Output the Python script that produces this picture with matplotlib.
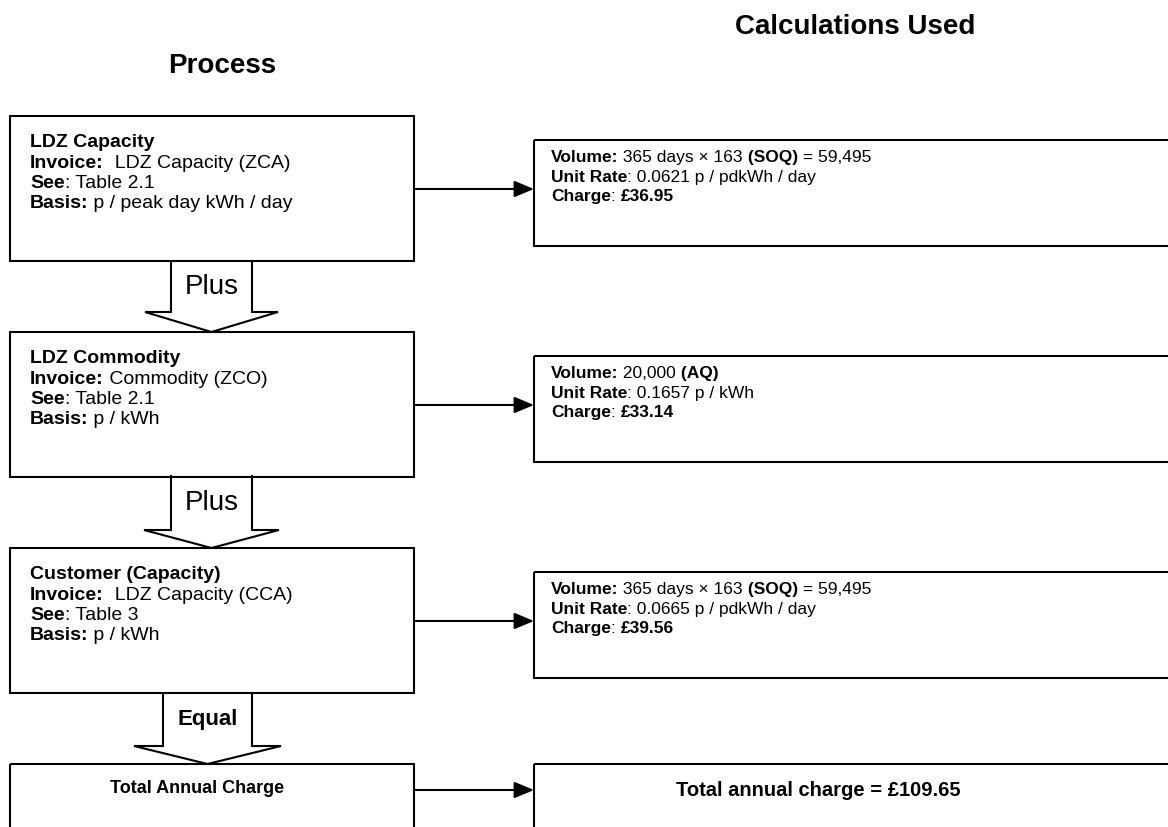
import matplotlib.pyplot as plt
from matplotlib.patches import Rectangle, Polygon

# text content of the flow chart
titles = ["Process", "Calculations Used"]
stage_names = ["LDZ Capacity", "LDZ Commodity", "Customer (Capacity)"]
invoices = ["  LDZ Capacity (ZCA)", " Commodity (ZCO)", "  LDZ Capacity (CCA)"]
see_tables = ["Table 2.1", "Table 2.1", "Table 3"]
bases = ["p / peak day kWh / day", "p / kWh", "p / kWh"]
vol_amounts = ["365 days \u00d7 163", "20,000", "365 days \u00d7 163"]
vol_sources = ["SOQ", "AQ", "SOQ"]
vol_results = ["59,495", "", "59,495"]
unit_rates = ["0.0621 p / pdkWh / day", "0.1657 p / kWh", "0.0665 p / pdkWh / day"]
charges = ["\u00a336.95", "\u00a333.14", "\u00a339.56"]
connectors = ["Plus", "Plus", "Equal"]
total_label = "Total Annual Charge"
total_charge = "\u00a3109.65"

plt.rcParams['font.family'] = ['Liberation Sans', 'DejaVu Sans']

fig = plt.figure(figsize=(11.68, 8.28), dpi=100)
ax = fig.add_axes([0, 0, 1, 1])
ax.set_xlim(0, 1168)
ax.set_ylim(828, 0)
ax.axis('off')
renderer = fig.canvas.get_renderer()


def runs(x, y, parts, size):
    # draw bold / normal pieces one after another on a baseline
    for txt, bold in parts:
        t = ax.text(x, y, txt, fontsize=size, va='baseline', ha='left',
                    fontweight='bold' if bold else 'normal')
        bb = t.get_window_extent(renderer)
        x = ax.transData.inverted().transform((bb.x1, bb.y0))[0]


# layout (pixels)
left_x0, left_x1 = 10, 414
left_tops = [117, 333, 549]
left_h = 145
right_x0, right_x1 = 534, 1190
right_tops = [141, 357, 573]
right_h = 106
link_ys = [190, 406, 622]
total_top = 765
total_y = 791
lw = 1.5

ax.text(222, 66, titles[0], fontsize=20, fontweight='bold', ha='center', va='center')
ax.text(855, 27, titles[1], fontsize=20, fontweight='bold', ha='center', va='center')

for i in range(3):
    top = left_tops[i]
    ax.add_patch(Rectangle((left_x0, top), left_x1 - left_x0, left_h,
                           fill=False, ec='black', lw=lw))
    runs(30, top + 30, [(stage_names[i], True)], 14)
    runs(30, top + 51, [("Invoice:", True), (invoices[i], False)], 14)
    runs(30, top + 71, [("See", True), (": " + see_tables[i], False)], 14)
    runs(30, top + 91, [("Basis:", True), (" " + bases[i], False)], 14)

    rtop = right_tops[i]
    ax.add_patch(Rectangle((right_x0, rtop), right_x1 - right_x0, right_h,
                           fill=False, ec='black', lw=lw))
    vol = [("Volume:", True), (" " + vol_amounts[i], False), (" (" + vol_sources[i] + ")", True)]
    if vol_results[i]:
        vol.append((" = " + vol_results[i], False))
    runs(551, rtop + 21, vol, 12.5)
    runs(551, rtop + 41, [("Unit Rate", True), (": " + unit_rates[i], False)], 12.5)
    runs(551, rtop + 60, [("Charge", True), (": ", False), (charges[i], True)], 12.5)

    ax.annotate('', xy=(right_x0, link_ys[i]), xytext=(left_x1, link_ys[i]),
                arrowprops=dict(arrowstyle='-|>,head_length=0.6,head_width=0.25',
                                mutation_scale=20, color='black', lw=lw,
                                shrinkA=0, shrinkB=0))

# block arrows between process boxes
blocks = [(211.5, 40.5, 66.5, 262, 313, 333),
          (211.5, 40.5, 67.5, 476, 531, 549),
          (207.5, 44.5, 73.5, 693, 747, 765)]
for (cx, sw, hw, y0, y1, tip), word in zip(blocks, connectors):
    pts = [(cx - sw, y0), (cx - sw, y1), (cx - hw, y1), (cx, tip),
           (cx + hw, y1), (cx + sw, y1), (cx + sw, y0)]
    ax.add_patch(Polygon(pts, closed=False, fill=False, ec='black', lw=lw,
                         joinstyle='miter'))
    if word == "Equal":
        ax.text(cx, (y0 + y1) / 2, word, fontsize=16, fontweight='bold',
                ha='center', va='center')
    else:
        ax.text(cx, (y0 + y1) / 2, word, fontsize=20, ha='center', va='center')

# totals row
ax.add_patch(Rectangle((left_x0, total_top), left_x1 - left_x0, 100,
                       fill=False, ec='black', lw=lw))
ax.add_patch(Rectangle((right_x0, total_top), right_x1 - right_x0, 100,
                       fill=False, ec='black', lw=lw))
ax.text(197, 789, total_label, fontsize=13, fontweight='bold', ha='center', va='center')
ax.text(818, 791, "Total annual charge = " + total_charge, fontsize=14.5,
        fontweight='bold', ha='center', va='center')
ax.annotate('', xy=(right_x0, total_y), xytext=(left_x1, total_y),
            arrowprops=dict(arrowstyle='-|>,head_length=0.6,head_width=0.25',
                            mutation_scale=20, color='black', lw=lw,
                            shrinkA=0, shrinkB=0))

fig.savefig('out.png', dpi=100)
